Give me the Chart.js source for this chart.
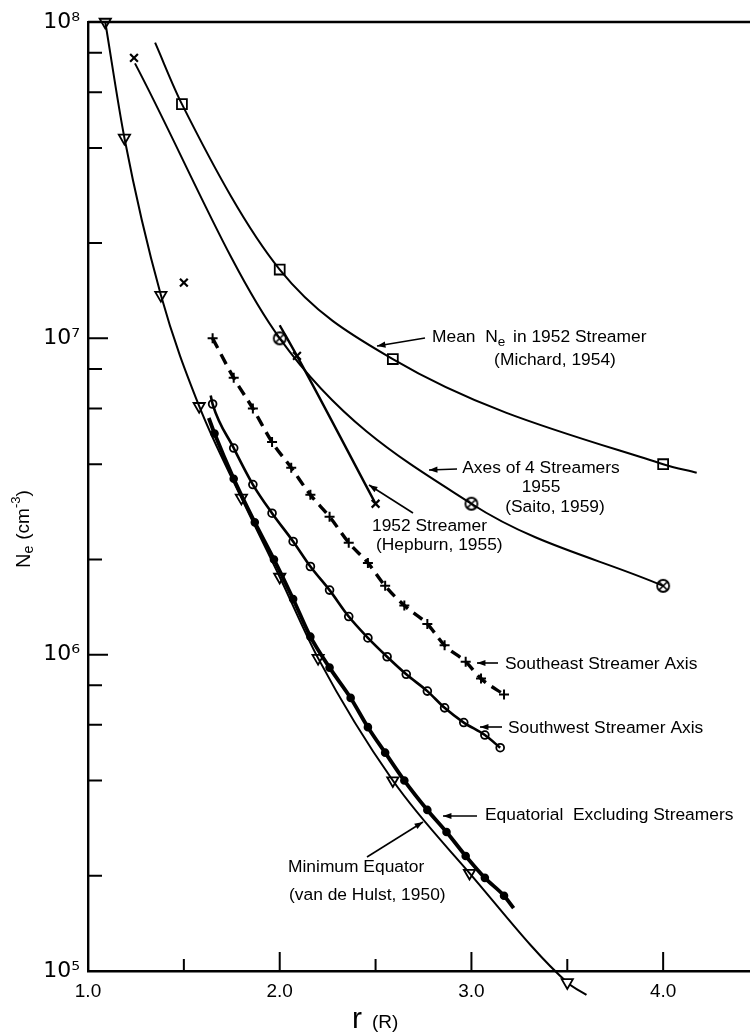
<!DOCTYPE html>
<html><head><meta charset="utf-8">
<script src="https://cdn.jsdelivr.net/npm/chart.js@4/dist/chart.umd.min.js"></script>
<style>html,body{margin:0;padding:0;background:#fff;overflow:hidden}canvas{display:block}</style>
</head><body><canvas id="c" width="750" height="1036"></canvas>
<script>
// ---- axis ticks ----
const xMajorTicks = [1, 2, 3, 4];
const xMinorTicks = [1.5, 2.5, 3.5];
const yMajorTicks = [1e5, 1e6, 1e7, 1e8];
const yMinorMultipliers = [2, 4, 6, 8];

// ---- Minimum Equator (van de Hulst, 1950) : open down-triangles ----
const minEqR  = [1.09, 1.19, 1.38, 1.58, 1.80, 2.00, 2.20, 2.59, 2.99, 3.50];
const minEqNe = [1.0e8, 4.3e7, 1.37e7, 6.1e6, 3.13e6, 1.76e6, 9.75e5, 4.0e5, 2.04e5, 9.2e4];
const minEqEnd = [3.60, 8.4e4];

// ---- Equatorial excluding streamers : filled dots ----
const equR  = [1.66, 1.76, 1.87, 1.97, 2.07, 2.16, 2.26, 2.37, 2.46, 2.55, 2.65, 2.77, 2.87, 2.97, 3.07, 3.17];
const equNe = [5.0e6, 3.6e6, 2.62e6, 2.0e6, 1.5e6, 1.14e6, 9.1e5, 7.3e5, 5.9e5, 4.9e5, 4.0e5, 3.23e5, 2.75e5, 2.31e5, 1.97e5, 1.73e5];
const equStart = [1.63, 5.6e6];
const equEnd = [3.22, 1.58e5];

// ---- Southwest streamer axis : open circles ----
const swR  = [1.65, 1.76, 1.86, 1.96, 2.07, 2.16, 2.26, 2.36, 2.46, 2.56, 2.66, 2.77, 2.86, 2.96, 3.07, 3.15];
const swNe = [6.2e6, 4.5e6, 3.45e6, 2.8e6, 2.28e6, 1.9e6, 1.6e6, 1.32e6, 1.13e6, 9.85e5, 8.67e5, 7.67e5, 6.79e5, 6.1e5, 5.57e5, 5.08e5];
const swStart = [1.64, 6.6e6];

// ---- Southeast streamer axis : plus signs, dashed ----
const seR  = [1.65, 1.76, 1.86, 1.96, 2.06, 2.16, 2.26, 2.36, 2.46, 2.55, 2.65, 2.77, 2.86, 2.97, 3.05, 3.17];
const seNe = [1.0e7, 7.5e6, 6.0e6, 4.7e6, 3.9e6, 3.2e6, 2.73e6, 2.26e6, 1.95e6, 1.65e6, 1.43e6, 1.25e6, 1.07e6, 9.5e5, 8.4e5, 7.48e5];

// ---- Mean Ne in 1952 streamer (Michard, 1954) : open squares ----
const michR  = [1.49, 2.00, 2.59, 4.00];
const michNe = [5.5e7, 1.65e7, 8.6e6, 4.0e6];
const michStart = [1.35, 8.6e7];
const michEnd = [4.175, 3.76e6];

// ---- Axes of 4 streamers 1955 (Saito, 1959) : circled crosses ----
const saitoR  = [2.00, 3.00, 4.00];
const saitoNe = [1.0e7, 3.0e6, 1.65e6];
const saitoStart = [1.245, 7.4e7];

// ---- 1952 streamer (Hepburn, 1955) : crosses ----
const hepR  = [1.24, 1.50, 2.09, 2.50];
const hepNe = [7.7e7, 1.5e7, 8.8e6, 3.0e6];
const hepStart = [2.00, 1.1e7];

const X_MIN = 1.0, X_MAX = 4.453;
const FONT = "'Liberation Sans', Arial, sans-serif";
const NOTE_SIZE = 17.4;

function pts(r, v) { return r.map((x, i) => ({x: x, y: v[i]})); }
function curve(start, r, v, end) {
  const a = [];
  if (start) a.push({x: start[0], y: start[1]});
  r.forEach((x, i) => a.push({x: x, y: v[i]}));
  if (end) a.push({x: end[0], y: end[1]});
  return a;
}

// circled-cross point style
function makeOtimes() {
  const c = document.createElement('canvas');
  c.width = 16; c.height = 16;
  const g = c.getContext('2d');
  g.fillStyle = '#fff'; g.strokeStyle = '#000'; g.lineWidth = 1.8;
  g.beginPath(); g.arc(8, 8, 6, 0, Math.PI * 2); g.fill(); g.stroke();
  g.lineWidth = 1.6;
  g.beginPath(); g.moveTo(4.2, 4.2); g.lineTo(11.8, 11.8); g.moveTo(11.8, 4.2); g.lineTo(4.2, 11.8); g.stroke();
  return c;
}
const otimes = makeOtimes();

function lineDS(data, width, extra) {
  return Object.assign({type: 'scatter', data: data, showLine: true, borderColor: '#000', borderWidth: width,
    pointRadius: 0, pointHoverRadius: 0, cubicInterpolationMode: 'monotone', clip: false}, extra || {});
}
function markDS(data, style, radius, fill, extra) {
  return Object.assign({type: 'scatter', data: data, showLine: false, pointStyle: style, pointRadius: radius,
    pointHoverRadius: radius, pointBackgroundColor: fill, pointBorderColor: '#000', pointBorderWidth: 1.8, clip: false}, extra || {});
}

const datasets = [
  lineDS(curve(null, minEqR, minEqNe, minEqEnd), 2),
  lineDS(curve(equStart, equR, equNe, equEnd), 3.8),
  lineDS(curve(swStart, swR, swNe, null), 2.6),
  lineDS(curve(null, seR, seNe, null), 3.4, {borderDash: [11, 7]}),
  lineDS(curve(michStart, michR, michNe, michEnd), 2),
  lineDS(curve(saitoStart, saitoR, saitoNe, null), 2),
  lineDS(curve(hepStart, hepR.slice(2), hepNe.slice(2), null), 2.4),
  markDS(pts(minEqR, minEqNe), 'triangle', 6.5, '#fff', {rotation: 180}),
  markDS(pts(equR, equNe), 'circle', 3.4, '#000'),
  markDS(pts(swR, swNe), 'circle', 3.9, '#fff'),
  markDS(pts(seR, seNe), 'cross', 5, '#000', {pointBorderWidth: 2}),
  markDS(pts(michR, michNe), 'rect', 7, '#fff'),
  markDS(pts(saitoR, saitoNe), otimes, 8, '#fff'),
  markDS(pts(hepR, hepNe), 'crossRot', 5.5, '#000', {pointBorderWidth: 2.2})
];

// inward tick marks + top frame line + markers that sit just outside the plot area
const frame = {
  id: 'frame',
  afterDraw(chart) {
    const g = chart.ctx, ca = chart.chartArea, xs = chart.scales.x, ys = chart.scales.y;
    g.save();
    g.strokeStyle = '#000';
    g.lineWidth = 2.4;
    g.beginPath(); g.moveTo(ca.left, ca.top); g.lineTo(ca.right, ca.top); g.stroke();
    g.lineWidth = 2;
    g.beginPath();
    xMajorTicks.forEach(v => { const p = xs.getPixelForValue(v); g.moveTo(p, ca.bottom); g.lineTo(p, ca.bottom - 19); });
    xMinorTicks.forEach(v => { const p = xs.getPixelForValue(v); g.moveTo(p, ca.bottom); g.lineTo(p, ca.bottom - 12); });
    yMajorTicks.forEach(v => { const p = ys.getPixelForValue(v); g.moveTo(ca.left, p); g.lineTo(ca.left + 20, p); });
    yMajorTicks.slice(0, 3).forEach(d => yMinorMultipliers.forEach(m => {
      const p = ys.getPixelForValue(d * m); g.moveTo(ca.left, p); g.lineTo(ca.left + 14, p);
    }));
    g.stroke();
    // Chart.js skips points outside the chart area: draw those triangles here from the same data
    g.lineWidth = 1.8; g.fillStyle = '#fff';
    minEqR.forEach((r, i) => {
      if (minEqNe[i] >= ys.min) return;
      const px = xs.getPixelForValue(r), py = ys.getPixelForValue(minEqNe[i]);
      g.beginPath(); g.moveTo(px - 5.6, py - 3.3); g.lineTo(px + 5.6, py - 3.3); g.lineTo(px, py + 6.5); g.closePath();
      g.fill(); g.stroke();
    });
    g.restore();
  }
};

// axis titles and curve annotations
const notes = {
  id: 'notes',
  afterDraw(chart) {
    const g = chart.ctx;
    g.save();
    g.fillStyle = '#000'; g.strokeStyle = '#000';
    g.textBaseline = 'middle';
    const txt = (s, x, y, size, align) => { g.font = size + 'px ' + FONT; g.textAlign = align || 'left'; g.fillText(s, x, y); };
    const arrow = (x1, y1, x2, y2) => {
      g.lineWidth = 1.6;
      g.beginPath(); g.moveTo(x1, y1); g.lineTo(x2, y2); g.stroke();
      const a = Math.atan2(y2 - y1, x2 - x1), L = 9, w = 0.35;
      g.beginPath(); g.moveTo(x2, y2);
      g.lineTo(x2 - L * Math.cos(a - w), y2 - L * Math.sin(a - w));
      g.lineTo(x2 - L * Math.cos(a + w), y2 - L * Math.sin(a + w));
      g.closePath(); g.fill();
    };
    // x title
    g.font = '30px ' + FONT; g.textAlign = 'left';
    g.fillText('r', 352, 1020);
    txt('(R)', 372, 1023, 19);
    // y title (rotated)
    g.save();
    g.translate(24, 525); g.rotate(-Math.PI / 2);
    g.textAlign = 'left';
    let x0 = -43;
    g.font = '20px ' + FONT; g.fillText('N', x0, 0); x0 += g.measureText('N').width;
    g.font = '14px ' + FONT; g.fillText('e', x0, 5); x0 += g.measureText('e').width + 6;
    g.font = '19px ' + FONT; g.fillText('(cm', x0, 0); x0 += g.measureText('(cm').width;
    g.font = '13px ' + FONT; g.fillText('-3', x0, -8); x0 += g.measureText('-3').width;
    g.font = '19px ' + FONT; g.fillText(')', x0, 0);
    g.restore();

    const S = NOTE_SIZE;
    // Michard
    g.font = S + 'px ' + FONT; g.textAlign = 'left';
    let mx = 432;
    g.fillText('Mean  N', mx, 337); mx += g.measureText('Mean  N').width;
    g.font = '13.5px ' + FONT; g.fillText('e', mx, 342); mx += g.measureText('e').width + 3;
    g.font = S + 'px ' + FONT; g.fillText(' in 1952 Streamer', mx, 337);
    txt('(Michard, 1954)', 555, 360, S, 'center');
    arrow(425, 338, 377, 346);
    // Saito
    txt('Axes of 4 Streamers', 541, 468, S, 'center');
    txt('1955', 541, 487, S, 'center');
    txt('(Saito, 1959)', 555, 507, S, 'center');
    arrow(457, 469, 429, 470);
    // Hepburn
    txt('1952 Streamer', 372, 526, S);
    txt('(Hepburn, 1955)', 376, 545, S);
    arrow(413, 513, 369, 485);
    // Southeast / Southwest
    txt('Southeast Streamer Axis', 505, 664, S);
    arrow(498, 663, 477, 663);
    txt('Southwest Streamer Axis', 508, 728, S);
    arrow(502, 727, 480, 727);
    // Equatorial
    txt('Equatorial  Excluding Streamers', 485, 815, S);
    arrow(477, 816, 443, 816);
    // Minimum equator
    txt('Minimum Equator', 288, 867, S);
    txt('(van de Hulst, 1950)', 289, 895, S);
    arrow(367, 857, 423, 822);
    g.restore();
  }
};

new Chart(document.getElementById('c'), {
  data: {datasets: datasets},
  options: {
    responsive: false, maintainAspectRatio: false, animation: false, devicePixelRatio: 1,
    layout: {padding: {top: 22, right: 0, left: 0, bottom: 0}, autoPadding: false},
    plugins: {legend: {display: false}, tooltip: {enabled: false}},
    scales: {
      x: {
        type: 'linear', min: X_MIN, max: X_MAX,
        afterBuildTicks: s => { s.ticks = xMajorTicks.map(v => ({value: v})); },
        afterFit: s => { s.height = 65; s.paddingRight = 0; s.paddingLeft = 0; },
        grid: {display: false, drawTicks: false},
        border: {display: true, color: '#000', width: 2.4},
        ticks: {padding: 9, color: '#000', font: {family: FONT, size: 19}, callback: v => v.toFixed(1)},
        title: {display: false}
      },
      y: {
        type: 'logarithmic', min: 1e5, max: 1e8,
        afterBuildTicks: s => { s.ticks = yMajorTicks.map(v => ({value: v})); },
        afterFit: s => { s.width = 88; s.paddingTop = 0; s.paddingBottom = 0; },
        grid: {display: false, drawTicks: false},
        border: {display: true, color: '#000', width: 2.4},
        ticks: {padding: 8, color: '#000', font: {family: "'DejaVu Sans', sans-serif", size: 22},
          callback: v => '10' + {5: '\u2075', 6: '\u2076', 7: '\u2077', 8: '\u2078'}[Math.round(Math.log10(v))]},
        title: {display: false}
      }
    }
  },
  plugins: [frame, notes]
});
</script>
</body></html>
